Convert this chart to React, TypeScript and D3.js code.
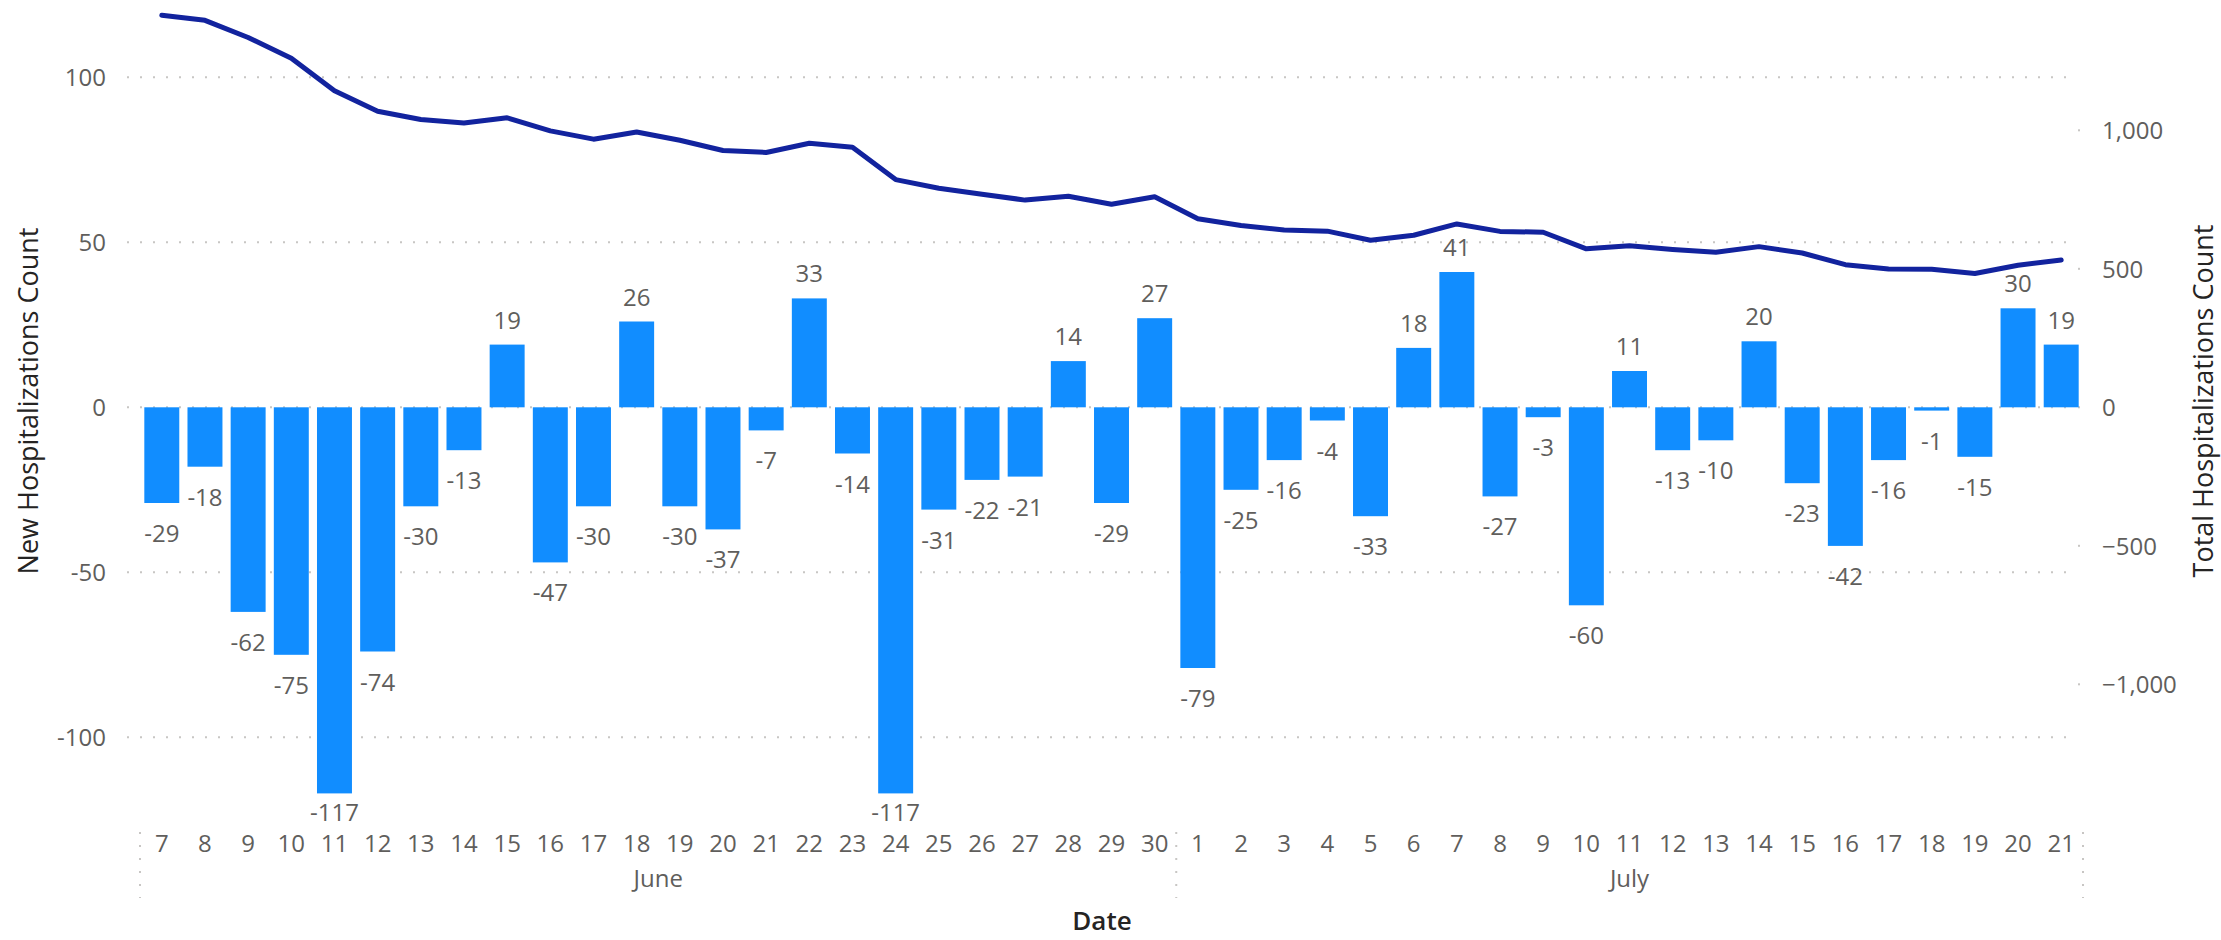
import React from "react";
import * as d3 from "d3";

const juneDays = [7,8,9,10,11,12,13,14,15,16,17,18,19,20,21,22,23,24,25,26,27,28,29,30];
const julyDays = [1,2,3,4,5,6,7,8,9,10,11,12,13,14,15,16,17,18,19,20,21];
const monthNames = ["June", "July"];

const newHosp = [
  -29,-18,-62,-75,-117,-74,-30,-13,19,-47,-30,26,-30,-37,-7,33,-14,-117,-31,-22,-21,14,-29,27,
  -79,-25,-16,-4,-33,18,41,-27,-3,-60,11,-13,-10,20,-23,-42,-16,-1,-15,30,19,
];

const totalHosp = [
  1415,1397,1335,1260,1143,1069,1039,1026,1045,998,968,994,964,927,920,953,939,822,791,769,748,762,733,760,
  681,656,640,636,603,621,662,635,632,572,583,570,560,580,557,515,499,498,483,513,532,
];

const leftTicks = [-100, -50, 0, 50, 100];
const rightTicks = [-1000, -500, 0, 500, 1000];

const FONT = "'Segoe UI', 'Open Sans', sans-serif";
const TICK = "#605E5C";
const TITLE = "#252423";
const GRID = "#C8C6C4";

export default function App() {
  const W = 2221, H = 940;
  const cats = [
    ...juneDays.map((d) => `Jun-${d}`),
    ...julyDays.map((d) => `Jul-${d}`),
  ];
  const labels = [...juneDays, ...julyDays];
  const x0 = 140, x1 = 2083;
  const x = d3.scaleBand<string>().domain(cats).range([x0, x1]).paddingInner(0.19).paddingOuter(0.1);
  const yL = d3.scaleLinear().domain([0, 100]).range([407.3, 77.3]);
  const yR = d3.scaleLinear().domain([0, 1000]).range([407.3, 130.3]);
  const cx = (i: number) => (x(cats[i]) as number) + x.bandwidth() / 2;

  const line = d3
    .line<number>()
    .x((_, i) => cx(i))
    .y((d) => yR(d));

  const sepMid = ((x(cats[juneDays.length - 1]) as number) + x.bandwidth() + (x(cats[juneDays.length]) as number)) / 2;
  const monthCenters = [
    (cx(0) + cx(juneDays.length - 1)) / 2,
    (cx(juneDays.length) + cx(cats.length - 1)) / 2,
  ];
  const seps = [x0, sepMid, x1];

  return (
    <svg width={W} height={H} style={{ position: "absolute", left: 0, top: 0, display: "block" }} fontFamily={FONT}>
      <rect width={W} height={H} fill="#fff" />
      {/* gridlines */}
      {leftTicks.map((t) => (
        <line key={"g" + t} x1={127} x2={2077} y1={yL(t)} y2={yL(t)} stroke={GRID} strokeWidth={2} strokeDasharray="2 11" />
      ))}
      {/* left ticks */}
      {leftTicks.map((t) => (
        <text key={"l" + t} x={106} y={yL(t) + 9} textAnchor="end" fontSize={24} fill={TICK}>
          {t}
        </text>
      ))}
      {/* right ticks */}
      {rightTicks.map((t) => (
        <g key={"r" + t}>
          <rect x={2078} y={yR(t) - 1} width={2} height={2} fill={GRID} />
          <text x={2102} y={yR(t) + 9} textAnchor="start" fontSize={24} fill={TICK}>
            {d3.format(",")(t)}
          </text>
        </g>
      ))}
      {/* bars */}
      {newHosp.map((v, i) => (
        <rect
          key={"b" + i}
          x={x(cats[i])}
          width={x.bandwidth()}
          y={Math.min(yL(v), yL(0))}
          height={Math.abs(yL(v) - yL(0))}
          fill="#118DFF"
        />
      ))}
      {/* data labels */}
      {newHosp.map((v, i) => (
        <text
          key={"dl" + i}
          x={cx(i)}
          y={v >= 0 ? yL(v) - 16 : Math.min(yL(v) + 39, 821)}
          textAnchor="middle"
          fontSize={24}
          fill={TICK}
        >
          {v}
        </text>
      ))}
      {/* line */}
      <path d={line(totalHosp) || ""} fill="none" stroke="#12239E" strokeWidth={5} strokeLinejoin="round" strokeLinecap="round" />
      {/* x tick labels */}
      {labels.map((d, i) => (
        <text key={"x" + i} x={cx(i)} y={852} textAnchor="middle" fontSize={24} fill={TICK}>
          {d}
        </text>
      ))}
      {/* month separators */}
      {seps.map((s, i) => (
        <line key={"s" + i} x1={s} x2={s} y1={832} y2={898} stroke={GRID} strokeWidth={2} strokeDasharray="2 11" />
      ))}
      {monthNames.map((m, i) => (
        <text key={"m" + m} x={monthCenters[i]} y={887} textAnchor="middle" fontSize={24} fill={TICK}>
          {m}
        </text>
      ))}
      {/* axis titles */}
      <text x={1102} y={930} textAnchor="middle" fontSize={26} fontWeight={600} fill={TITLE}>
        Date
      </text>
      <text
        transform={`translate(38, 401) rotate(-90)`}
        textAnchor="middle"
        fontSize={27}
        fontWeight={400}
        fill={TITLE}
      >
        New Hospitalizations Count
      </text>
      <text
        transform={`translate(2213, 401) rotate(-90)`}
        textAnchor="middle"
        fontSize={27}
        fontWeight={400}
        fill={TITLE}
      >
        Total Hospitalizations Count
      </text>
    </svg>
  );
}
